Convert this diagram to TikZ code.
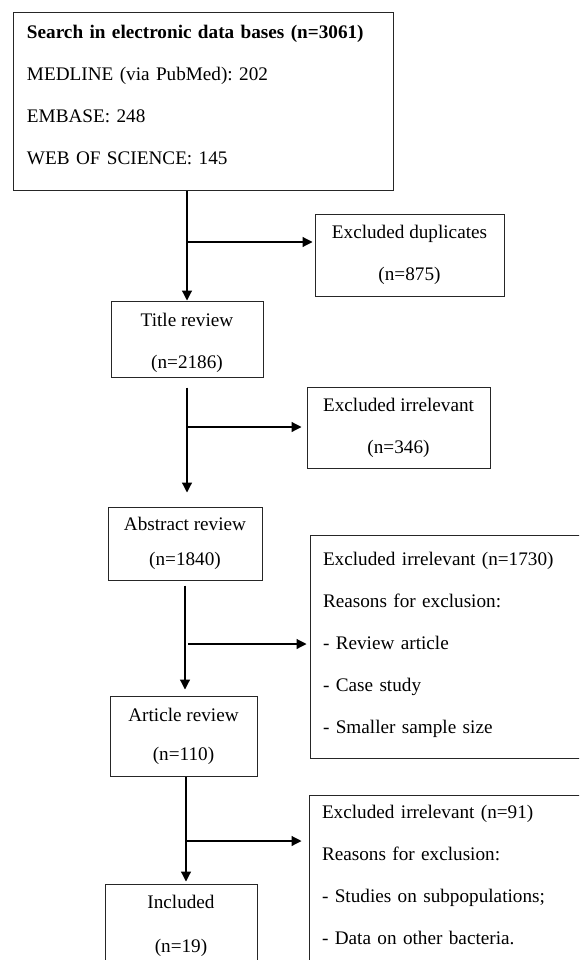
\documentclass[tikz,border=0pt]{standalone}
\usepackage{fontspec}
\setmainfont{Liberation Serif}
\usepackage{tikz}
\usetikzlibrary{arrows.meta}
\usetikzlibrary{positioning}
\frenchspacing

\begin{document}
\begin{tikzpicture}[x=1pt, y=-1pt]
	\useasboundingbox (0,0) rectangle (579,960);
	\clip (0,0) rectangle (579,960);

	\begin{scope}[every node/.style={draw=black!85, line width=1pt, inner sep=0pt,
	              font=\fontsize{19.2}{42}\selectfont}]
		\node[minimum width=380pt, minimum height=177pt, align=left, text width=352pt,
		      text height=13pt, text depth=139pt] (1) at (203,101.5)
			{\textbf{Search in electronic data bases (n=3061)}\\MEDLINE (via PubMed): 202\\EMBASE: 248\\WEB OF SCIENCE: 145};
		\node[minimum width=189pt, minimum height=82pt, align=center] (2) at (409.5,255) {Excluded duplicates\\(n=875)};
		\node[minimum width=152pt, minimum height=76pt, align=center, text height=63pt, text depth=4pt] (3) at (187,339) {Title review\\(n=2186)};
		\node[minimum width=183pt, minimum height=81pt, align=center] (4) at (398.5,427.5) {Excluded irrelevant\\(n=346)};
		\node[minimum width=154pt, minimum height=73pt, align=center] (5) at (185,543.5) {Abstract review\\[-7pt](n=1840)};
		\node[minimum width=310pt, minimum height=223pt, align=left, text width=284pt,
		      text height=13pt, text depth=176pt] (6) at (465,646.5)
			{Excluded irrelevant (n=1730)\\Reasons for exclusion:\\- Review article\\- Case study\\- Smaller sample size};
		\node[minimum width=147pt, minimum height=80pt, align=center] (7) at (183.5,736) {Article review\\[-3pt](n=110)};
		\node[minimum width=311pt, minimum height=195pt, align=left, text width=285pt,
		      text height=13pt, text depth=162pt] (8) at (464.5,892.5)
			{Excluded irrelevant (n=91)\\Reasons for exclusion:\\- Studies on subpopulations;\\- Data on other bacteria.};
		\node[minimum width=152pt, minimum height=84pt, align=center] (9) at (181,926) {Included\\[2pt](n=19)};
	\end{scope}

	% branch points on the main line
	\coordinate (b1) at (188,242);
	\coordinate (b2) at (186,427);
	\coordinate (b3) at (188,644);
	\coordinate (b4) at (186,841);

	\begin{scope}[>={Triangle[length=10pt, width=10pt]},
	              every edge/.style={draw=black, line width=1.2pt, ->}]
		\path (1.south -| 3.north) edge (3.north);
		\path (b1) edge[shorten >=2pt] (b1 -| 2.west);
		\path (3.south) edge[shorten <=10pt, shorten >=14pt] (3.south |- 5.north);
		\path (b2) edge[shorten >=5pt] (b2 -| 4.west);
		\path (5.south) edge[shorten <=5pt, shorten >=6pt] (5.south |- 7.north);
		\path (b3) edge[shorten >=3pt] (b3 -| 6.west);
		\path (7.south -| b4) edge[shorten >=2pt] (b4 |- 9.north);
		\path (b4) edge[shorten >=7pt] (b4 -| 8.west);
	\end{scope}
\end{tikzpicture}
\end{document}
